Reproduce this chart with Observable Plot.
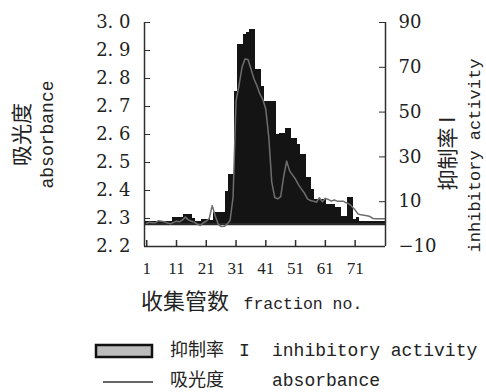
<!DOCTYPE html>
<html>
<head>
<meta charset="utf-8">
<script src="https://cdn.jsdelivr.net/npm/d3@7"></script>
<script src="https://cdn.jsdelivr.net/npm/@observablehq/plot@0.6"></script>
<style>
  html, body { margin: 0; padding: 0; background: #fff; }
  svg { display: block; }
</style>
</head>
<body>
<div id="chart"></div>
<script>
// ---- data ----
const fractions = d3.range(1, 82); // fraction no. 1..81

// inhibitory activity (%), right axis, black bars
const inhibition = [
  1, 1, 1, 1, 1, 1, 1, 1, 1, 2.8,
  2.8, 2.8, 2.8, 4.3, 4.3, 4.3, 2.5, 1, 1, 2.2,
  2.2, 2.2, 1.5, 5, 5, 5, 5, 14.7, 22, 22,
  59, 80, 80, 84.6, 85.5, 87, 87, 69, 69, 61.6,
  54.9, 54.9, 54.9, 54.9, 40, 40.5, 40.5, 42.5, 42.5, 38,
  38, 35.5, 31, 31, 20.7, 20.7, 15.4, 11, 11, 11,
  11, 8.7, 8.7, 8.7, 7.4, 7.4, 3.5, 3.5, 11.9, 11.9,
  2, 3, 1.3, 1.3, 1.3, 1.3, 1.3, 1.3, 1.3, 1.3,
  1.3
];

// absorbance, left axis, grey line
const absorbance = [
  2.283, 2.287, 2.285, 2.286, 2.292, 2.290, 2.288, 2.284, 2.281, 2.286,
  2.290, 2.288, 2.295, 2.305, 2.295, 2.290, 2.287, 2.280, 2.275, 2.285,
  2.290, 2.300, 2.346, 2.310, 2.280, 2.271, 2.272, 2.280, 2.293, 2.376,
  2.721, 2.775, 2.840, 2.870, 2.868, 2.835, 2.799, 2.775, 2.745, 2.725,
  2.690, 2.590, 2.430, 2.375, 2.370, 2.378, 2.450, 2.505, 2.470, 2.455,
  2.440, 2.420, 2.405, 2.390, 2.370, 2.364, 2.362, 2.358, 2.374, 2.360,
  2.372, 2.368, 2.362, 2.366, 2.362, 2.362, 2.362, 2.356, 2.352, 2.342,
  2.330, 2.316, 2.313, 2.312, 2.310, 2.307, 2.300, 2.299, 2.299, 2.299,
  2.299
];

const xTicks = [1, 11, 21, 31, 41, 51, 61, 71];
const absTicks = [2.2, 2.3, 2.4, 2.5, 2.6, 2.7, 2.8, 2.9, 3.0];
const inhTicks = [-10, 10, 30, 50, 70, 90];
const absDomain = [2.2, 3.0];
const inhDomain = [-10, 90];
const xDomain = [0.25, 81.2];

// ---- layout ----
const W = 486, H = 392;
const mL = 144, mR = 101, mT = 22, mB = 146;
const frameW = W - mL - mR, frameH = H - mT - mB;

// map inhibitory-activity values onto the absorbance (left) scale
const toAbs = v => absDomain[0] + (v - inhDomain[0]) / (inhDomain[1] - inhDomain[0]) * (absDomain[1] - absDomain[0]);
const fromAbs = a => inhDomain[0] + (a - absDomain[0]) / (absDomain[1] - absDomain[0]) * (inhDomain[1] - inhDomain[0]);

const data = fractions.map((f, i) => ({f, inh: inhibition[i], abs: absorbance[i]}));

const CJK = "Noto Sans CJK SC";
const MONO = "Liberation Mono";
const SERIF = "DejaVu Serif";
const axisColor = "#2e2e2e";
const barColor = "#141414";

const fmtSigned = n => (n < 0 ? "\u2212" : "") + Math.abs(n);

const plot = Plot.plot({
  width: W, height: H,
  marginLeft: mL, marginRight: mR, marginTop: mT, marginBottom: mB,
  style: {fontFamily: SERIF, fontSize: "18px", color: "#222", background: "#fff", overflow: "visible"},
  x: {domain: xDomain},
  y: {domain: absDomain},
  marks: [
    // inhibitory activity bars
    Plot.rect(data, {
      x1: d => d.f - 0.5, x2: d => d.f + 0.5,
      y1: toAbs(0), y2: d => toAbs(d.inh),
      inset: 0,
      fill: barColor,
      shapeRendering: "crispEdges"
    }),
    // zero line of the inhibitory activity axis
    Plot.ruleY([toAbs(0)], {stroke: "#2a2a2a", strokeWidth: 2.2}),
    // absorbance line
    Plot.line(data, {x: "f", y: "abs", stroke: "#6e6e6e", strokeWidth: 1.5}),
    // frame: left, right, bottom
    Plot.ruleX([xDomain[0]], {stroke: axisColor, strokeWidth: 1.5}),
    Plot.ruleX([xDomain[1]], {stroke: axisColor, strokeWidth: 1.5}),
    Plot.ruleY([absDomain[0]], {stroke: axisColor, strokeWidth: 1.5}),
    // inward tick marks
    Plot.tickY(absTicks, {y: d => d, insetRight: frameW - 6, stroke: axisColor}),
    Plot.tickY(inhTicks.map(toAbs), {y: d => d, insetLeft: frameW - 6, stroke: axisColor}),
    Plot.tickX(xTicks, {x: d => d, insetTop: frameH - 6, stroke: axisColor, strokeWidth: 1.5}),
    // axes labels
    Plot.axisY(absTicks, {
      anchor: "left", tickSize: 0, tickPadding: 14, label: null,
      tickFormat: d => d.toFixed(1).replace(".", ". "),
      fontFamily: SERIF, fontSize: 18
    }),
    Plot.axisY(inhTicks.map(toAbs), {
      anchor: "right", tickSize: 0, tickPadding: 13, label: null,
      tickFormat: d => fmtSigned(Math.round(fromAbs(d))),
      fontFamily: SERIF, fontSize: 18
    }),
    Plot.axisX(xTicks, {
      anchor: "bottom", tickSize: 0, tickPadding: 15, label: null,
      tickFormat: d => String(d),
      fontFamily: "Liberation Serif", fontSize: 17
    }),
    // axis titles
    Plot.text(["吸光度"], {text: d => d, frameAnchor: "left", textAnchor: "middle", dx: -122, rotate: -90, fontSize: 21, fontFamily: CJK, fill: "#222"}),
    Plot.text(["absorbance"], {text: d => d, frameAnchor: "left", textAnchor: "middle", dx: -97, rotate: -90, fontSize: 18, fontFamily: MONO, fill: "#222"}),
    Plot.text(["抑制率 I"], {text: d => d, frameAnchor: "right", textAnchor: "middle", dx: 63, dy: 19, rotate: -90, fontSize: 21, fontFamily: CJK, fill: "#222"}),
    Plot.text(["inhibitory activity"], {text: d => d, frameAnchor: "right", textAnchor: "middle", dx: 89, dy: 21, rotate: -90, fontSize: 17, fontFamily: MONO, fill: "#222"}),
    Plot.text(["收集管数"], {text: d => d, frameAnchor: "bottom", dy: 62, dx: -36, textAnchor: "end", fontSize: 22, fontFamily: CJK, fill: "#222"}),
    Plot.text(["fraction no."], {text: d => d, frameAnchor: "bottom", dy: 62, dx: -21.5, textAnchor: "start", fontSize: 16.5, fontFamily: MONO, fill: "#222"})
  ]
});

// ---- legend (below the chart) ----
const svg = d3.select(plot);
const lg = svg.append("g").attr("class", "legend").attr("fill", "#222").attr("text-anchor", "start");
lg.append("rect").attr("x", 96).attr("y", 345).attr("width", 56).attr("height", 12)
  .attr("fill", "#bdbdbd").attr("stroke", "#111").attr("stroke-width", 2.5);
const legendText = (x, y, font, size, s) =>
  lg.append("text").attr("x", x).attr("y", y).attr("dominant-baseline", "middle")
    .attr("text-anchor", "start").attr("font-family", font).attr("font-size", size).text(s);
legendText(170, 351, CJK, 18, "抑制率");
legendText(239, 351, MONO, 18, "I");
legendText(272, 351, MONO, 18, "inhibitory activity");
lg.append("line").attr("x1", 103).attr("x2", 153).attr("y1", 382).attr("y2", 382)
  .attr("stroke", "#333").attr("stroke-width", 1.5);
legendText(170, 381, CJK, 18, "吸光度");
legendText(272, 381, MONO, 18, "absorbance");

document.getElementById("chart").appendChild(plot);
</script>
</body>
</html>
